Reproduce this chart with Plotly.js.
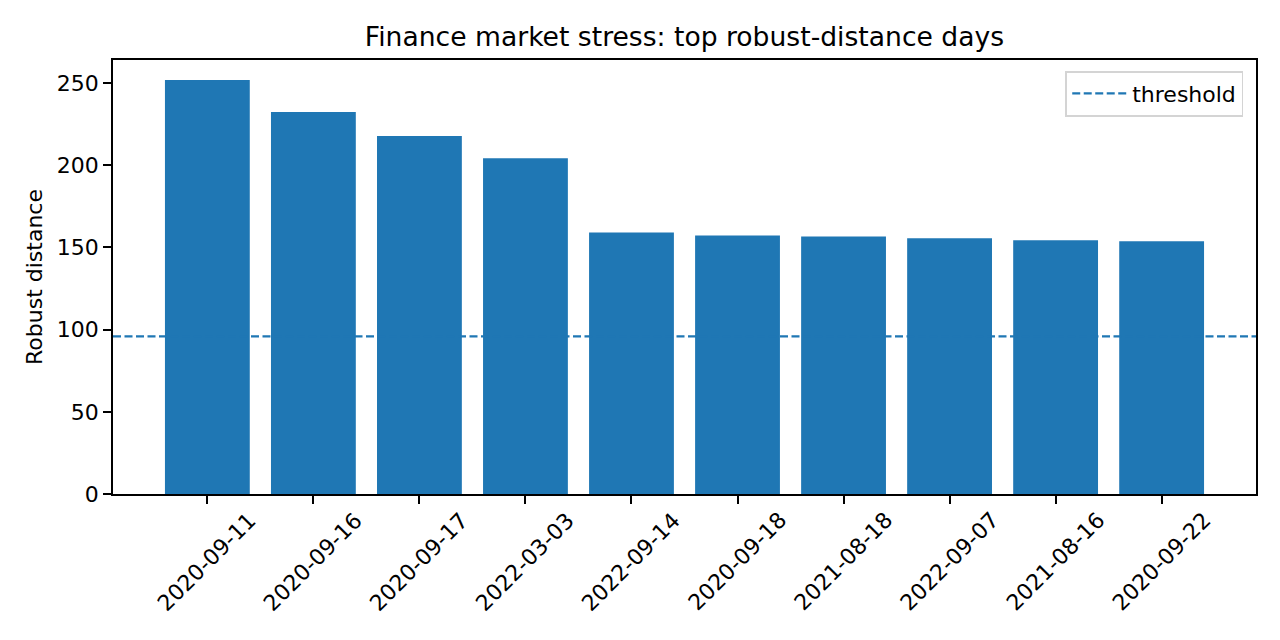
<!DOCTYPE html>
<html>
<head>
<meta charset="utf-8">
<script src="https://cdn.plot.ly/plotly-3.0.1.min.js"></script>
<style>body{margin:0;background:#fff}#chart{width:1280px;height:640px}</style>
</head>
<body>
<div id="chart"></div>
<script>
var dates = ['2020-09-11', '2020-09-16', '2020-09-17', '2022-03-03', '2022-09-14',
             '2020-09-18', '2021-08-18', '2022-09-07', '2021-08-16', '2020-09-22'];
var robustDist = [251.8, 232.3, 217.7, 204.3, 159.1, 157.3, 156.7, 155.5, 154.3, 153.7];
var threshold = 95.9;

var pos = dates.map(function (d, i) { return i; });

var bars = {
  x: pos,
  y: robustDist,
  type: 'bar',
  width: 0.8,
  marker: {color: '#1f77b4'},
  showlegend: false,
  hoverinfo: 'y'
};

// rotated date labels, centred under each bar like matplotlib does
var labels = dates.map(function (d, i) {
  return {
    x: i, xref: 'x', y: 0, yref: 'paper',
    text: d, showarrow: false, textangle: -45,
    xanchor: 'center', yanchor: 'top', yshift: -11,
    font: {size: 22, color: '#000'}
  };
});

var layout = {
  width: 1280, height: 640,
  margin: {l: 113, r: 24, t: 60, b: 146},
  paper_bgcolor: '#fff', plot_bgcolor: '#fff',
  font: {family: 'DejaVu Sans', size: 22, color: '#000'},
  title: {text: 'Finance market stress: top robust-distance days',
          font: {size: 26.6}, xref: 'paper', x: 0.5, xanchor: 'center',
          y: 0.942, yanchor: 'middle'},
  xaxis: {
    range: [-0.89, 9.89], tickvals: pos, ticktext: dates.map(function () { return ''; }),
    showgrid: false, zeroline: false, showline: true, mirror: true,
    linecolor: '#000', linewidth: 1.8, ticks: 'outside', ticklen: 8, tickwidth: 1.8, tickcolor: '#000'
  },
  yaxis: {
    range: [0, 264], tickvals: [0, 50, 100, 150, 200, 250],
    showgrid: false, zeroline: false, showline: true, mirror: true,
    linecolor: '#000', linewidth: 1.8, ticks: 'outside', ticklen: 8, tickwidth: 1.8, tickcolor: '#000',
    tickfont: {size: 22},
    title: {text: 'Robust distance', font: {size: 22}, standoff: 8}
  },
  shapes: [{
    type: 'line', xref: 'paper', x0: 0, x1: 1, yref: 'y', y0: threshold, y1: threshold,
    line: {color: '#1f77b4', width: 2.2, dash: '8px,3.5px'},
    showlegend: true, name: 'threshold'
  }],
  legend: {
    x: 0.989, xanchor: 'right', y: 0.975, yanchor: 'top',
    bordercolor: '#d4d4d4', borderwidth: 1.8, bgcolor: 'rgba(255,255,255,0.8)',
    itemwidth: 55,
    font: {size: 22}
  },
  annotations: labels
};

Plotly.newPlot('chart', [bars], layout, {displayModeBar: false});
</script>
</body>
</html>
